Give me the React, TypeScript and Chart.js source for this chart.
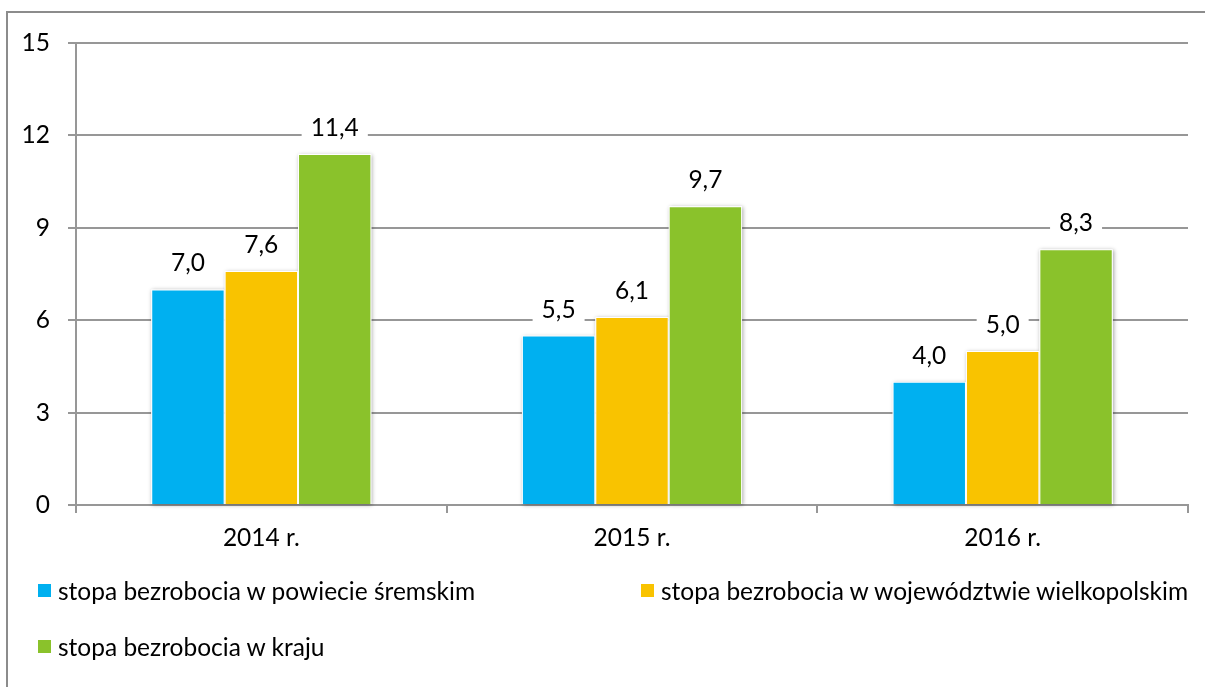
import React, { useEffect, useRef } from "react";
import { Chart, registerables } from "chart.js";

Chart.register(...registerables);

const categories = ["2014 r.", "2015 r.", "2016 r."];
const seriesNames = [
  "stopa bezrobocia w powiecie śremskim",
  "stopa bezrobocia w województwie wielkopolskim",
  "stopa bezrobocia w kraju",
];
const powiatValues = [7.0, 5.5, 4.0];
const wojewodztwoValues = [7.6, 6.1, 5.0];
const krajValues = [11.4, 9.7, 8.3];
const seriesColors = ["#00B0F0", "#F9C300", "#8AC22B"];
const yMin = 0;
const yMax = 15;
const yStep = 3;

const FONT = "Lato";
const FONT_SIZE = 24.5;
const GRID = "#979797";

const fmt = (v: number) => v.toFixed(1).replace(".", ",");

const barDecor = {
  id: "barDecor",
  beforeDatasetsDraw(chart: any) {
    const ctx = chart.ctx;
    ctx.save();
    ctx.shadowColor = "rgba(0,0,0,0.35)";
    ctx.shadowBlur = 4;
    ctx.shadowOffsetX = 1;
    ctx.shadowOffsetY = 1;
    ctx.fillStyle = "#ffffff";
    chart.data.datasets.forEach((_: any, di: number) => {
      const meta = chart.getDatasetMeta(di);
      meta.data.forEach((bar: any) => {
        const { x, y, base, width } = bar.getProps(["x", "y", "base", "width"], true);
        ctx.fillRect(x - width / 2, y, width, base - y);
      });
    });
    ctx.restore();
  },
  afterDatasetsDraw(chart: any) {
    const ctx = chart.ctx;
    ctx.save();
    ctx.font = `${FONT_SIZE}px ${FONT}`;
    ctx.textAlign = "center";
    ctx.textBaseline = "middle";
    chart.data.datasets.forEach((ds: any, di: number) => {
      const meta = chart.getDatasetMeta(di);
      meta.data.forEach((bar: any, i: number) => {
        const { x, y } = bar.getProps(["x", "y"], true);
        const txt = fmt(ds.data[i]);
        const w = ctx.measureText(txt).width;
        const cy = y - 27;
        ctx.fillStyle = "#ffffff";
        ctx.fillRect(x - w / 2 - 9, cy - 14, w + 18, 28);
        ctx.fillStyle = "#000000";
        ctx.fillText(txt, x, cy + 1);
      });
    });
    ctx.restore();
  },
};

export default function App() {
  const ref = useRef<HTMLCanvasElement | null>(null);
  useEffect(() => {
    if (!ref.current) return;
    Chart.defaults.font.family = FONT;
    Chart.defaults.font.size = FONT_SIZE;
    Chart.defaults.color = "#000000";
    const valueSets = [powiatValues, wojewodztwoValues, krajValues];
    const chart = new Chart(ref.current, {
      type: "bar",
      data: {
        labels: categories,
        datasets: valueSets.map((vals, i) => ({
          label: seriesNames[i],
          data: vals,
          backgroundColor: seriesColors[i],
          borderColor: "#ffffff",
          borderWidth: 1,
          categoryPercentage: 0.594,
          barPercentage: 1,
        })),
      },
      options: {
        responsive: false,
        animation: false,
        layout: { padding: { top: 43, right: 17, bottom: 127, left: 0 } },
        plugins: {
          legend: { display: false },
          tooltip: { enabled: false },
        },
        scales: {
          x: {
            grid: {
              offset: true,
              drawOnChartArea: false,
              drawTicks: true,
              tickLength: 8,
              color: GRID,
              lineWidth: 2,
            },
            border: { display: true, color: GRID, width: 2 },
            ticks: { padding: 10, color: "#000", font: { family: FONT, size: FONT_SIZE } },
            afterFit: (s: any) => {
              s.height = 55;
            },
          },
          y: {
            min: yMin,
            max: yMax,
            grid: { color: GRID, lineWidth: 2, tickLength: 8, drawTicks: true },
            border: { display: true, color: GRID, width: 2 },
            ticks: {
              stepSize: yStep,
              padding: 18,
              color: "#000",
              font: { family: FONT, size: FONT_SIZE },
            },
            afterFit: (s: any) => {
              s.width = 76;
            },
          },
        },
      },
      plugins: [barDecor],
    });
    return () => chart.destroy();
  }, []);

  const legendItem = (i: number, left: number, top: number) => (
    <div
      key={i}
      style={{
        position: "absolute",
        left,
        top,
        height: 30,
        display: "flex",
        alignItems: "center",
        whiteSpace: "nowrap",
        fontFamily: FONT,
        fontSize: FONT_SIZE,
        color: "#000",
      }}
    >
      <span style={{ display: "inline-block", width: 13, height: 13, background: seriesColors[i], marginRight: 7 }} />
      <span>{seriesNames[i]}</span>
    </div>
  );

  return (
    <div style={{ position: "absolute", left: 0, top: 0, width: 1205, height: 687, overflow: "hidden", background: "#fff" }}>
      <div
        style={{
          position: "absolute",
          left: 6,
          top: 11,
          width: 1220,
          height: 700,
          borderLeft: "2px solid #8c8c8c",
          borderTop: "2px solid #8c8c8c",
        }}
      />
      <canvas ref={ref} width={1205} height={687} style={{ position: "absolute", left: 0, top: 0 }} />
      {legendItem(0, 38, 575)}
      {legendItem(1, 641, 575)}
      {legendItem(2, 38, 631)}
    </div>
  );
}
